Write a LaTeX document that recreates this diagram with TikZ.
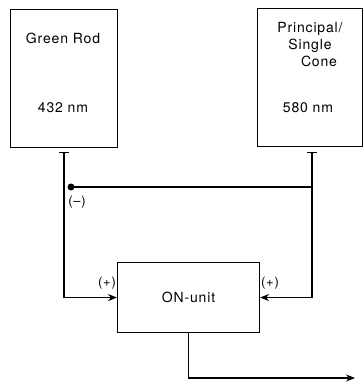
\documentclass[tikz,border=0pt]{standalone}
\usepackage{fontspec}
\newfontfamily\diagfont[LetterSpace=6]{TeX Gyre Heros}
\usetikzlibrary{arrows.meta, positioning}
\tikzset{
  cellbox/.style={draw, line width=1.1pt, inner sep=0pt, anchor=north west,
    font=\diagfont\fontsize{14}{17}\selectfont},
  txt/.style={font=\diagfont\fontsize{14}{17}\selectfont, align=center, inner sep=0pt},
  sign/.style={font=\diagfont\fontsize{13}{15}\selectfont, inner sep=0pt},
  wire/.style={line width=1.1pt},
  arrow/.style={wire, -{Stealth[length=9pt,width=7pt]}},
  synarrow/.style={wire, {Bar[width=10pt]}-{Stealth[length=9pt,width=7pt]}}
}

\begin{document}
\begin{tikzpicture}[x=1pt,y=-1pt]
    \useasboundingbox (0,0) rectangle (363,387);
    \node[cellbox, minimum width=107pt, minimum height=138pt] (rod) at (9.5,9) {};
    \node[cellbox, minimum width=105pt, minimum height=138pt] (cone) at (257,8) {};
    \node[cellbox, minimum width=142pt, minimum height=70pt] (on) at (117,262) {ON-unit};
    \node[txt] (rodname) at (63,38) {Green Rod};
    \node[txt] (rodnm) at (63,108) {432 nm};
    \node[txt] (conename) at (310,45) {Principal/\\Single\\\hspace*{18pt}Cone};
    \node[txt] (conenm) at (308,108) {580 nm};
    \coordinate (rodT) at (64,152);
    \coordinate (coneT) at (312,152);
    \coordinate (junc) at (71,187);
    \coordinate (coneJ) at (312,187);
    \coordinate (out) at (355,378);
    \draw[synarrow] (rodT) |- (on.west);
    \draw[synarrow] (coneT) |- (on.east);
    \draw[wire] (junc) -- (coneJ);
    \fill (junc) circle (3.5pt);
    \draw[arrow] (on.south) |- (out);
    \node[sign] (inh) at (77,202) {(\textendash)};
    \node[sign] (excl) at (107,283) {(+)};
    \node[sign] (excr) at (270,283) {(+)};
  \end{tikzpicture}
\end{document}
